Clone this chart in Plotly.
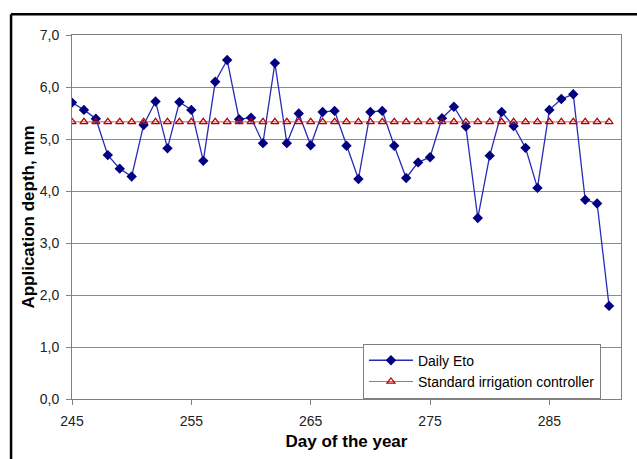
import plotly.graph_objects as go

# Day of the year
days = list(range(245, 291))

# Daily reference evapotranspiration (mm)
daily_eto = [
    5.70, 5.56, 5.39, 4.69, 4.43, 4.28, 5.27, 5.72, 4.82, 5.71,
    5.56, 4.58, 6.10, 6.52, 5.38, 5.41, 4.92, 6.46, 4.92, 5.49,
    4.88, 5.52, 5.54, 4.87, 4.23, 5.52, 5.54, 4.87, 4.25, 4.55,
    4.65, 5.40, 5.62, 5.24, 3.48, 4.68, 5.52, 5.25, 4.83, 4.06,
    5.56, 5.77, 5.86, 3.83, 3.76, 1.79,
]

# Fixed depth applied by a standard irrigation controller (mm)
standard_depth = [5.33] * len(days)

x_ticks = [245, 255, 265, 275, 285]

font_family = "Liberation Sans, Arial, sans-serif"

fig = go.Figure()

fig.add_trace(go.Scatter(
    x=days, y=daily_eto, name="Daily Eto",
    mode="lines+markers",
    line=dict(color="#2a2ab8", width=1.3),
    marker=dict(symbol="diamond", size=8, color="#000080"),
))

fig.add_trace(go.Scatter(
    x=days, y=standard_depth, name="Standard irrigation controller",
    mode="lines+markers",
    line=dict(color="#d06060", width=1),
    marker=dict(symbol="triangle-up-open", size=7, color="#b00000",
                line=dict(width=1.2, color="#b00000")),
))

axis_common = dict(
    showline=True, linecolor="#808080", linewidth=1, mirror=True,
    ticks="outside", ticklen=5, tickcolor="#808080",
    tickfont=dict(family=font_family, size=14, color="#222222"),
    zeroline=False,
)

fig.update_xaxes(
    range=[245, 291], tickvals=x_ticks, showgrid=False,
    ticklabelstandoff=4,
    title=dict(text="<b>Day of the year</b>",
               font=dict(family=font_family, size=17, color="#000000"),
               standoff=7),
    **axis_common,
)

fig.update_yaxes(
    range=[0, 7], dtick=1, tickformat=".1f",
    showgrid=True, gridcolor="#8c8c8c", gridwidth=1,
    ticklabelstandoff=4,
    title=dict(text="<b>Application depth, mm</b>",
               font=dict(family=font_family, size=17, color="#000000"),
               standoff=0),
    **axis_common,
)

# Outer chart frame (top and left edges)
frame = dict(type="line", xref="paper", yref="paper",
             line=dict(color="#000000", width=2.5))
fig.add_shape(x0=-0.111, x1=1.2, y0=1.057, y1=1.057, **frame)
fig.add_shape(x0=-0.111, x1=-0.111, y0=-0.3, y1=1.057, **frame)

fig.update_layout(
    width=637, height=459,
    margin=dict(l=72, r=16, t=35, b=60),
    paper_bgcolor="white", plot_bgcolor="white",
    separators=",.",
    font=dict(family=font_family, size=14, color="#000000"),
    showlegend=True,
    legend=dict(
        x=0.53, y=0.152, xanchor="left", yanchor="top",
        bgcolor="white", bordercolor="#808080", borderwidth=1,
        font=dict(family=font_family, size=14, color="#000000"),
        tracegroupgap=0, itemwidth=44,
    ),
)

fig.write_html("out.html")
